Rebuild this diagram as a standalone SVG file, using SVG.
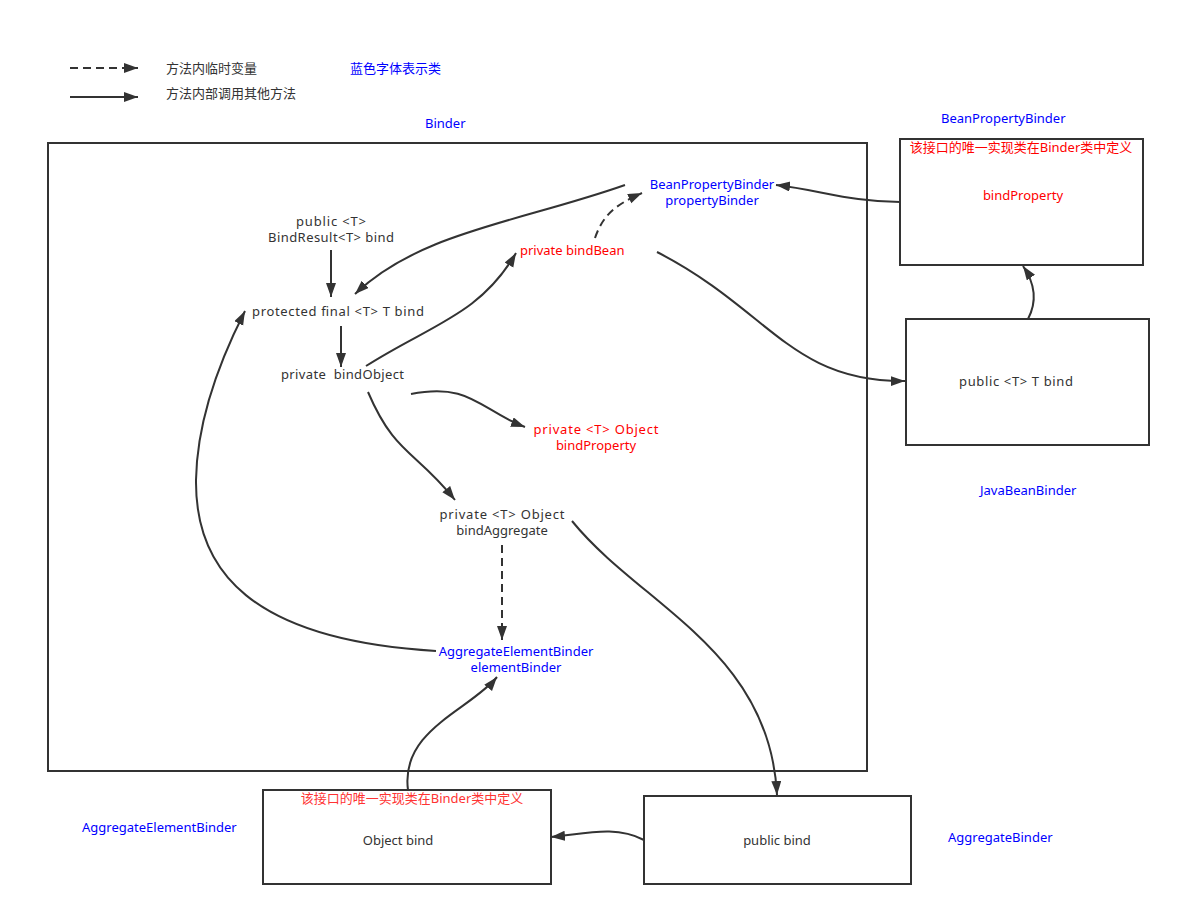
<svg xmlns="http://www.w3.org/2000/svg" width="1180" height="916" viewBox="0 0 1180 916">
<defs>
<marker id="ah" markerUnits="userSpaceOnUse" markerWidth="16" markerHeight="12" refX="14" refY="5" orient="auto">
<path d="M0,0 L14,5 L0,10 z" fill="#333"/>
</marker>
<style>
.t{font-family:"Noto Sans","Noto Sans CJK SC",sans-serif;font-size:13px;fill:#333;white-space:pre}
.b{fill:#0000ff}
.r{fill:#ff0000}
.m{text-anchor:middle}
.box{fill:#fff;stroke:#333;stroke-width:2}
.c{fill:none;stroke:#333;stroke-width:2;marker-end:url(#ah)}
.d{stroke-dasharray:8,5}
</style>
</defs>
<rect width="1180" height="916" fill="#fff"/>
<g id="legend">
<line x1="70" y1="68" x2="138" y2="68" class="c d"/>
<line x1="70" y1="97" x2="138" y2="97" class="c"/>
<text x="166" y="73" class="t">方法内临时变量</text>
<text x="166" y="98" class="t">方法内部调用其他方法</text>
<text x="350" y="73" class="t b">蓝色字体表示类</text>
</g>
<g id="binder">
<rect x="48" y="143" width="819" height="628" class="box"/>
<text x="425" y="128" class="t b">Binder</text>
</g>
<g id="n-public-bind"><text x="331" y="226" class="t m" textLength="70" lengthAdjust="spacing">public &lt;T&gt;</text><text x="331" y="242" class="t m" textLength="126" lengthAdjust="spacing">BindResult&lt;T&gt; bind</text></g>
<g id="n-protected"><text x="252" y="316" class="t" textLength="172" lengthAdjust="spacing">protected final &lt;T&gt; T bind</text></g>
<g id="n-bindObject"><text x="281" y="379" class="t" xml:space="preserve" textLength="123" lengthAdjust="spacing">private  bindObject</text></g>
<g id="n-bindBean"><text x="520" y="255" class="t r">private bindBean</text></g>
<g id="n-propertyBinder"><text x="712" y="189" class="t b m">BeanPropertyBinder</text><text x="712" y="205" class="t b m">propertyBinder</text></g>
<g id="n-bindProperty"><text x="596" y="434" class="t r m" textLength="125" lengthAdjust="spacing">private &lt;T&gt; Object</text><text x="596" y="450" class="t r m">bindProperty</text></g>
<g id="n-bindAggregate"><text x="502" y="519" class="t m" textLength="125" lengthAdjust="spacing">private &lt;T&gt; Object</text><text x="502" y="535" class="t m">bindAggregate</text></g>
<g id="n-elementBinder"><text x="516" y="656" class="t b m">AggregateElementBinder</text><text x="516" y="672" class="t b m">elementBinder</text></g>
<g id="n-beanPropertyBinder">
<rect x="900" y="139" width="243" height="126" class="box"/>
<text x="941" y="123" class="t b">BeanPropertyBinder</text>
<text x="1021" y="152" class="t r m">该接口的唯一实现类在Binder类中定义</text>
<text x="1023" y="200" class="t r m">bindProperty</text>
</g>
<g id="n-javaBeanBinder">
<rect x="906" y="319" width="243" height="126" class="box"/>
<text x="959" y="386" class="t" textLength="114" lengthAdjust="spacing">public &lt;T&gt; T bind</text>
<text x="980" y="495" class="t b">JavaBeanBinder</text>
</g>
<g id="n-aggregateElementBinder">
<rect x="263" y="790" width="288" height="94" class="box"/>
<text x="412" y="803" class="t m" style="fill:#ff3333">该接口的唯一实现类在Binder类中定义</text>
<text x="398" y="845" class="t m">Object bind</text>
<text x="82" y="832" class="t b">AggregateElementBinder</text>
</g>
<g id="n-aggregateBinder">
<rect x="644" y="796" width="267" height="88" class="box"/>
<text x="777" y="845" class="t m">public bind</text>
<text x="948" y="842" class="t b">AggregateBinder</text>
</g>
<g id="connectors">
<path d="M331,250 L331,297" class="c"/>
<path d="M341,326 L341,367" class="c"/>
<path d="M625,185 C520,222 420,232 355,294" class="c"/>
<path d="M595,238 C603,215 615,205 642,193" class="c d"/>
<path d="M366,366 C430,325 480,315 516,253" class="c"/>
<path d="M657,252 C770,310 790,382 905,381" class="c"/>
<path d="M411,394 C470,382 480,410 525,427" class="c"/>
<path d="M368,392 C395,455 415,450 455,500" class="c"/>
<path d="M502,545 L502,640" class="c d"/>
<path d="M436,651 C250,640 195,570 196,480 C197,420 220,360 245,311" class="c"/>
<path d="M408,790 C400,730 470,710 497,677" class="c"/>
<path d="M572,521 C640,605 770,650 777,795" class="c"/>
<path d="M644,840 C615,825 585,834 551,837" class="c"/>
<path d="M1028,319 C1038,300 1034,282 1023,266" class="c"/>
<path d="M900,202 C850,202 820,190 776,185" class="c"/>
</g>
</svg>
